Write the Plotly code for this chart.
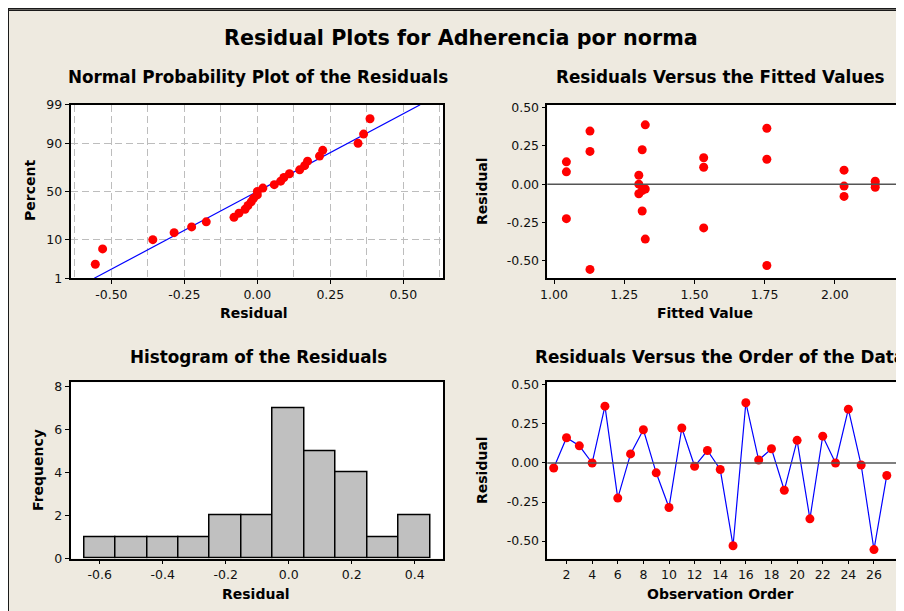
import plotly.graph_objects as go
from statistics import NormalDist
import numpy as np

# ---- data ----
observation_order = list(range(1, 28))
residuals = [-0.032, 0.162, 0.110, 0.000, 0.364, -0.225, 0.058, 0.213, -0.063, -0.285,
             0.224, -0.021, 0.080, -0.042, -0.530, 0.386, 0.019, 0.091, -0.175, 0.145,
             -0.358, 0.172, 0.000, 0.345, -0.013, -0.555, -0.080]
fitted_values = [1.325, 1.758, 1.533, 1.302, 1.758, 1.044, 1.302, 1.128, 1.302, 1.533,
                 1.314, 2.144, 1.044, 1.314, 1.758, 1.325, 2.144, 2.033, 1.314, 1.044,
                 1.325, 1.533, 2.144, 1.128, 2.033, 1.128, 2.033]
pct_ticks = [1, 10, 50, 90, 99]
resid_ticks = [-0.5, -0.25, 0.0, 0.25, 0.5]
resid_labels = ["-0.50", "-0.25", "0.00", "0.25", "0.50"]
fit_ticks = [1.0, 1.25, 1.5, 1.75, 2.0]
fit_labels = ["1.00", "1.25", "1.50", "1.75", "2.00"]
hist_ticks = [-0.6, -0.4, -0.2, 0.0, 0.2, 0.4]
hist_labels = ["-0.6", "-0.4", "-0.2", "0.0", "0.2", "0.4"]
freq_ticks = [0, 2, 4, 6, 8]
order_ticks = list(range(2, 27, 2))

W, H = 904, 611
OFF = 8  # page offset of the plot div
BG = "#EEEAE0"
FONT = "DejaVu Sans"
nd = NormalDist()

def px(x):
    return (x - OFF) / W

def py(y):
    return 1 - (y - OFF) / H

# normal probability plot positions (median ranks)
n = len(residuals)
sorted_res = sorted(residuals)
z_pts = [nd.inv_cdf((i + 1 - 0.3) / (n + 0.4)) for i in range(n)]
mu = float(np.mean(residuals))
sd = float(np.std(residuals, ddof=1))
z_lo, z_hi = nd.inv_cdf(0.01), nd.inv_cdf(0.99)
z_line = [z_lo, z_hi]
x_line = [mu + sd * z for z in z_line]

fig = go.Figure()
red = dict(color="#FF0000", size=9)

fig.add_trace(go.Scatter(x=x_line, y=z_line, mode="lines", line=dict(color="#0000FF", width=1.2),
                         xaxis="x", yaxis="y", showlegend=False, hoverinfo="skip"))
fig.add_trace(go.Scatter(x=sorted_res, y=z_pts, mode="markers", marker=red,
                         xaxis="x", yaxis="y", showlegend=False))
fig.add_trace(go.Scatter(x=fitted_values, y=residuals, mode="markers", marker=red,
                         xaxis="x2", yaxis="y2", showlegend=False))
fig.add_trace(go.Histogram(x=residuals, xbins=dict(start=-0.65, end=0.45, size=0.1),
                           marker=dict(color="#C0C0C0", line=dict(color="#000000", width=1.5)),
                           xaxis="x3", yaxis="y3", showlegend=False))
fig.add_trace(go.Scatter(x=observation_order, y=residuals, mode="lines+markers",
                         line=dict(color="#0000FF", width=1.2), marker=red,
                         xaxis="x4", yaxis="y4", showlegend=False))

tickfont = dict(family=FONT, size=12.5, color="#111111")
common = dict(showline=True, linecolor="#000000", linewidth=1.5, mirror=True,
              ticks="outside", ticklen=4, tickcolor="#000000", tickwidth=1,
              tickfont=tickfont, zeroline=False, fixedrange=True, automargin=False)
grid = dict(showgrid=True, gridcolor="#BDBDBD", griddash="7px,4px", gridwidth=1.2)

left_dom = [px(70.5), px(443)]
right_dom = [px(547.3), px(896)]
top_dom = [py(278.3), py(104.7)]
bot_dom = [py(558.5), py(382.3)]

fig.update_layout(
    width=W, height=H, margin=dict(l=0, r=0, t=0, b=0, autoexpand=False),
    paper_bgcolor=BG, plot_bgcolor="#FFFFFF", bargap=0,
    xaxis=dict(domain=left_dom, anchor="y", range=[-0.64, 0.636], tickvals=resid_ticks,
               ticktext=resid_labels,
               minor=dict(dtick=0.125, tick0=0, ticklen=0, **grid), **grid, **common),
    yaxis=dict(domain=top_dom, anchor="x", range=[z_lo, z_hi],
               tickvals=[nd.inv_cdf(p / 100) for p in pct_ticks],
               ticktext=[str(p) for p in pct_ticks], **grid, **common),
    xaxis2=dict(domain=right_dom, anchor="y2", range=[0.976, 2.218], tickvals=fit_ticks,
                ticktext=fit_labels, showgrid=False, **common),
    yaxis2=dict(domain=top_dom, anchor="x2", range=[-0.613, 0.517], tickvals=resid_ticks,
                ticktext=resid_labels, showgrid=False, **common),
    xaxis3=dict(domain=left_dom, anchor="y3", range=[-0.693, 0.49], tickvals=hist_ticks,
                ticktext=hist_labels, showgrid=False, **common),
    yaxis3=dict(domain=bot_dom, anchor="x3", range=[0, 8.2], tickvals=freq_ticks,
                showgrid=False, **common),
    xaxis4=dict(domain=right_dom, anchor="y4", range=[0.5, 27.72], tickvals=order_ticks,
                showgrid=False, **common),
    yaxis4=dict(domain=bot_dom, anchor="x4", range=[-0.612, 0.517], tickvals=resid_ticks,
                ticktext=resid_labels, showgrid=False, **common),
)

shapes = [
    # dark frame lines on top / left of the beige panel
    dict(type="line", xref="paper", yref="paper", x0=px(8), x1=px(W + 20), y0=py(8.8), y1=py(8.8),
         line=dict(color="#1a1a1a", width=1.5)),
    dict(type="line", xref="paper", yref="paper", x0=px(8), x1=px(W + 20), y0=py(10.3), y1=py(10.3),
         line=dict(color="#1a1a1a", width=1.2)),
    dict(type="line", xref="paper", yref="paper", x0=px(8), x1=px(8), y0=py(8.5), y1=py(H + 20),
         line=dict(color="#1a1a1a", width=2)),
    # zero reference lines
    dict(type="line", xref="x2 domain", yref="y2", x0=0, x1=1, y0=0, y1=0,
         line=dict(color="#555555", width=1.5)),
    dict(type="line", xref="x4 domain", yref="y4", x0=0, x1=1, y0=0, y1=0,
         line=dict(color="#555555", width=1.5)),
]
fig.update_layout(shapes=shapes)

def ann(text, x, y, size, angle=0, xanchor="center"):
    fig.add_annotation(text=f"<b>{text}</b>", x=px(x), y=py(y),
                       xref="paper", yref="paper", showarrow=False, textangle=angle,
                       xanchor=xanchor, yanchor="middle",
                       font=dict(family=FONT, size=size, color="#000000"))

ann("Residual Plots for Adherencia por norma", 461, 38, 20.7)
ann("Normal Probability Plot of the Residuals", 258, 77, 16.8)
ann("Residuals Versus the Fitted Values", 720, 77, 16.8)
ann("Histogram of the Residuals", 258, 357, 16.8)
ann("Residuals Versus the Order of the Data", 533, 357, 16.8, xanchor="left")
ann("Residual", 254, 313, 14)
ann("Fitted Value", 705, 313, 14)
ann("Residual", 256, 594, 14)
ann("Observation Order", 720, 594, 14)
ann("Percent", 30, 191, 14, angle=-90)
ann("Residual", 482, 191, 14, angle=-90)
ann("Frequency", 38, 470, 14, angle=-90)
ann("Residual", 482, 470, 14, angle=-90)

fig.write_html("out.html")
